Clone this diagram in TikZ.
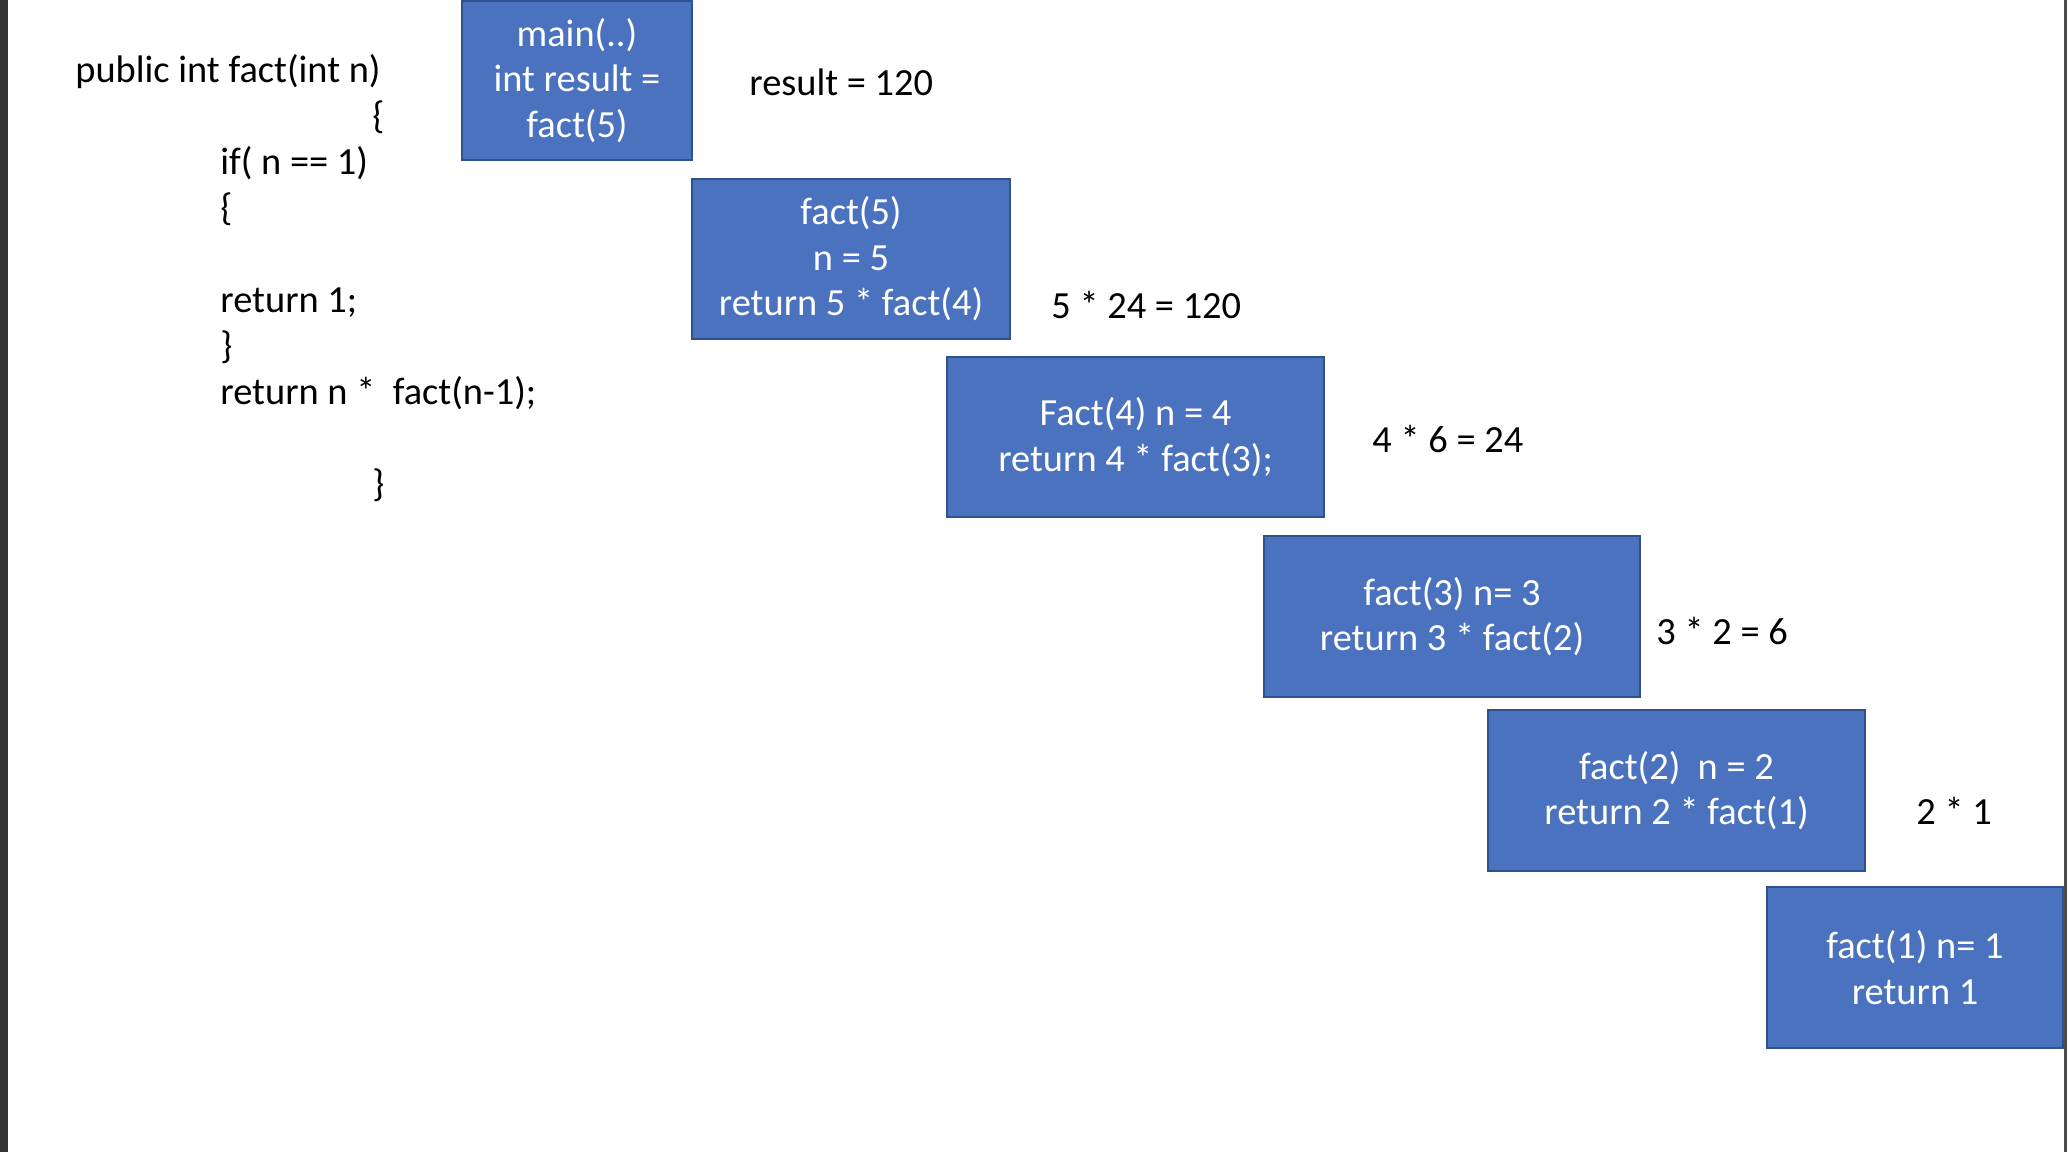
\documentclass[tikz,border=0pt]{standalone}
\usepackage{fontspec}
\setmainfont{Carlito}
\definecolor{boxblue}{HTML}{4A72BF}
\definecolor{boxedge}{HTML}{2F528F}
\begin{document}
\begin{tikzpicture}[x=0.5pt, y=-0.5pt]
        \tikzstyle{frame} = [draw=boxedge, fill=boxblue, line width=1pt, text=white, align=center, inner sep=0pt, font=\fontsize{19.2}{22.8}\selectfont]
        \tikzstyle{codeline} = [anchor=base west, inner sep=0pt, font=\fontsize{19.2}{23}\selectfont]
        \useasboundingbox (0,0) rectangle (2068,1152);
        \fill[white] (0,0) rectangle (2068,1152);
        \fill[black!80] (0,0) rectangle (8,1152);
        \fill[black!70] (2064,0) rectangle (2067,1152);
        % the method
        \node[codeline] (sig) at (75,82) {public int fact(int n)};
        \node[codeline] (open) at (372,128) {\{};
        \node[codeline] (cond) at (220,174) {if( n == 1)};
        \node[codeline] (ifopen) at (220,220) {\{};
        \node[codeline] (base) at (220,312) {return 1;};
        \node[codeline] (ifclose) at (220,358) {\}};
        \node[codeline] (step) at (220,404) {return n *\ \ fact(n-1);};
        \node[codeline] (close) at (372,496) {\}};
        % the call stack
        \node[frame, minimum width=115pt, minimum height=79.5pt] (main) at (577,80.5) {main(..)\\int result =\\fact(5)};
        \node[frame, minimum width=159pt, minimum height=80pt] (f5) at (851,259) {fact(5)\\n = 5\\return 5 * fact(4)};
        \node[frame, minimum width=188.5pt, minimum height=80pt] (f4) at (1135.5,437) {Fact(4) n = 4\\return 4 * fact(3);};
        \node[frame, minimum width=188pt, minimum height=80.5pt] (f3) at (1452,616.5) {fact(3) n= 3\\return 3 * fact(2)};
        \node[frame, minimum width=188.5pt, minimum height=80.5pt] (f2) at (1676.5,790.5) {fact(2)\ \ n = 2\\return 2 * fact(1)};
        \node[frame, minimum width=148pt, minimum height=80.5pt] (f1) at (1915,967.5) {fact(1) n= 1\\return 1};
        % returned values
        \node[codeline] (r0) at (749,95) {result = 120};
        \node[codeline] (r5) at (1051,318) {5 * 24 = 120};
        \node[codeline] (r4) at (1372,452) {4 * 6 = 24};
        \node[codeline] (r3) at (1656,644) {3 * 2 = 6};
        \node[codeline] (r2) at (1916,824) {2 * 1};
\end{tikzpicture}
\end{document}
